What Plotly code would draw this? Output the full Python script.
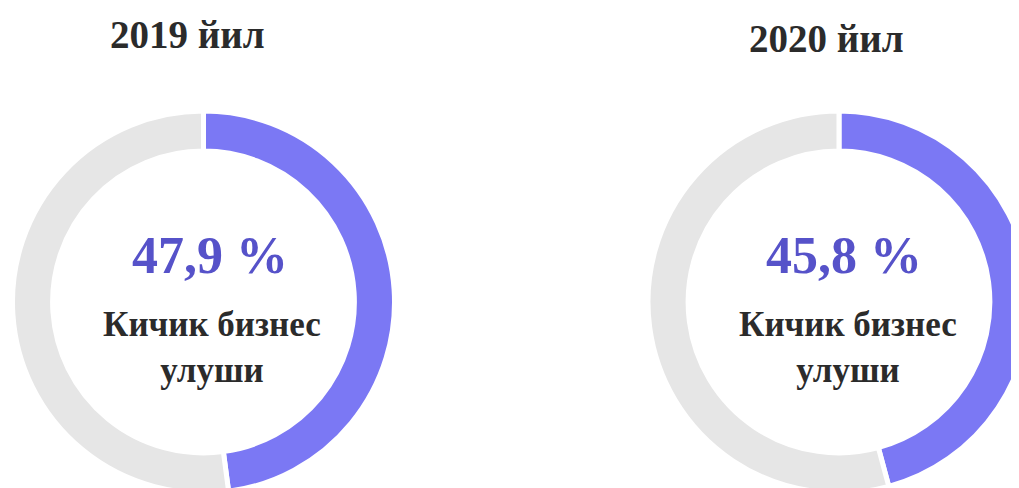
import plotly.graph_objects as go

# ---- data ----
years = ["2019 йил", "2020 йил"]
small_business_share = [47.9, 45.8]          # percent
pct_labels = ["47,9 %", "45,8 %"]
segment_names = ["Кичик бизнес улуши", "Бошқа"]
center_label = "Кичик бизнес<br>улуши"

# ---- layout constants ----
W, H = 1030, 505          # figure is a bit larger than the window -> bottom/right get cropped
OFF = 8                   # default body margin of the html page
R = 191
centers = [(203.5, 302), (839, 302)]   # viewport pixel centres of donuts

PURPLE = "#7b78f4"
GREY = "#e6e6e6"
TXT_PURPLE = "#5652c9"
TXT_DARK = "#2b2b2b"
FONT = "Liberation Serif"


def px_x(x):
    return (x - OFF) / W


def px_y(y):
    return 1 - (y - OFF) / H


fig = go.Figure()
for i, (share, (cx, cy)) in enumerate(zip(small_business_share, centers)):
    fig.add_trace(go.Pie(
        values=[share, 100 - share],
        labels=segment_names,
        sort=False,
        direction="clockwise",
        rotation=0,
        hole=0.79,
        textinfo="none",
        hoverinfo="label+percent",
        marker=dict(colors=[PURPLE, GREY], line=dict(color="white", width=5)),
        domain=dict(x=[px_x(cx - R), px_x(cx + R)], y=[px_y(cy + R), px_y(cy - R)]),
        showlegend=False,
    ))

annotations = []
title_pos = [(187, 34), (826, 38)]
for i in range(2):
    tx, ty = title_pos[i]
    annotations.append(dict(text=f"<b>{years[i]}</b>", x=px_x(tx), y=px_y(ty), xref="paper", yref="paper",
                            showarrow=False, xanchor="center", yanchor="middle",
                            font=dict(family=FONT, size=39, color=TXT_DARK)))
    cx = [210, 844][i]
    annotations.append(dict(text=f"<b>{pct_labels[i]}</b>", x=px_x(cx), y=px_y(255), xref="paper", yref="paper",
                            showarrow=False, xanchor="center", yanchor="middle",
                            font=dict(family=FONT, size=52, color=TXT_PURPLE)))
    lx = [212, 848][i]
    annotations.append(dict(text=f"<b>{center_label}</b>", x=px_x(lx), y=px_y(347), xref="paper", yref="paper",
                            showarrow=False, xanchor="center", yanchor="middle", align="center",
                            font=dict(family=FONT, size=35, color=TXT_DARK)))

fig.update_layout(
    width=W, height=H, autosize=False,
    margin=dict(l=0, r=0, t=0, b=0),
    paper_bgcolor="white", plot_bgcolor="white",
    annotations=annotations,
)

fig.write_html("out.html")
